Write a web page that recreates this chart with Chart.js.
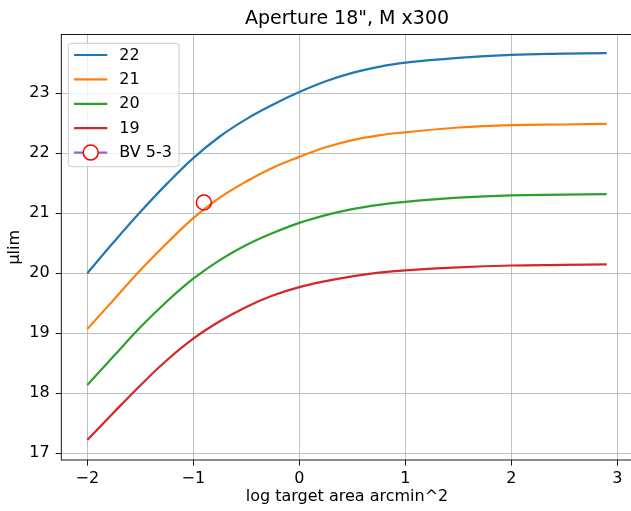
<!DOCTYPE html>
<html>
<head>
<meta charset="utf-8">
<script src="https://cdn.jsdelivr.net/npm/chart.js@4/dist/chart.umd.min.js"></script>
<style>
  html, body { margin: 0; padding: 0; background: #fff; overflow: hidden; width: 631px; height: 511px; }
  canvas { display: block; }
</style>
</head>
<body>
<canvas id="chart" width="634" height="511"></canvas>
<script>
// Limiting surface brightness vs. log target area, one curve per sky brightness
const logArea = [-2, -1.75, -1.5, -1.25, -1, -0.75, -0.5, -0.25, 0, 0.25, 0.5, 0.75, 1, 1.5, 2, 2.5, 2.9];
const mu22 = [20.0, 20.52, 21.02, 21.49, 21.92, 22.28, 22.57, 22.81, 23.02, 23.2, 23.34, 23.44, 23.51, 23.59, 23.64, 23.66, 23.67];
const mu21 = [19.07, 19.56, 20.05, 20.5, 20.92, 21.26, 21.53, 21.76, 21.94, 22.1, 22.22, 22.3, 22.35, 22.43, 22.47, 22.48, 22.49];
const mu20 = [18.14, 18.62, 19.1, 19.53, 19.91, 20.22, 20.47, 20.67, 20.84, 20.97, 21.07, 21.14, 21.19, 21.26, 21.3, 21.31, 21.32];
const mu19 = [17.22, 17.68, 18.13, 18.55, 18.91, 19.2, 19.44, 19.63, 19.77, 19.87, 19.95, 20.01, 20.05, 20.1, 20.13, 20.14, 20.15];
const seriesLabels = ['22', '21', '20', '19'];

// Observed object
const bvLabel = 'BV 5-3';
const bvX = [-0.9];
const bvY = [21.18];

const xTicks = [-2, -1, 0, 1, 2, 3];
const yTicks = [17, 18, 19, 20, 21, 22, 23];

const titleText = 'Aperture 18", M x300';
const xTitle = 'log target area arcmin^2';
const yTitle = 'µlim';

const seriesColors = ['#1f77b4', '#ff7f0e', '#2ca02c', '#d62728'];
const FONT = "'DejaVu Sans', sans-serif";

Chart.defaults.font.family = FONT;
Chart.defaults.font.size = 16;
Chart.defaults.color = '#000';

const curves = [mu22, mu21, mu20, mu19];

const datasets = seriesLabels.map((lab, i) => ({
  label: lab,
  data: logArea.map((x, j) => ({ x: x, y: curves[i][j] })),
  borderColor: seriesColors[i],
  backgroundColor: seriesColors[i],
  borderWidth: 2.2,
  pointRadius: 0,
  tension: 0.4,
  fill: false
}));
datasets.push({
  label: bvLabel,
  data: bvX.map((x, j) => ({ x: x, y: bvY[j] })),
  showLine: false,
  borderColor: '#9467bd',
  pointStyle: 'circle',
  pointRadius: 7.5,
  pointBorderColor: '#ff0000',
  pointBackgroundColor: 'rgba(0,0,0,0)',
  pointBorderWidth: 1.5,
  order: -1,
  isMarker: true
});

// Axes frame (all four spines)
const frame = {
  id: 'frame',
  afterDatasetsDraw(chart) {
    const { ctx, chartArea: a } = chart;
    ctx.save();
    ctx.strokeStyle = '#000';
    ctx.lineWidth = 0.9;
    ctx.strokeRect(a.left, a.top, a.right - a.left, a.bottom - a.top);
    ctx.restore();
  }
};

// Title centred over the plotting area
const plotTitle = {
  id: 'plotTitle',
  afterDraw(chart) {
    const { ctx, chartArea: a } = chart;
    ctx.save();
    ctx.font = '19px ' + FONT;
    ctx.fillStyle = '#000';
    ctx.textAlign = 'center';
    ctx.textBaseline = 'middle';
    ctx.fillText(titleText, (a.left + a.right) / 2, 19.5);
    ctx.restore();
  }
};

// Legend box in the upper-left corner of the plot
const legendBox = {
  id: 'legendBox',
  afterDatasetsDraw(chart) {
    const { ctx, chartArea: a } = chart;
    const x0 = a.left + 7, y0 = a.top + 8.8, w = 110.7, h = 123.4;
    ctx.save();
    ctx.beginPath();
    ctx.roundRect(x0, y0, w, h, 3);
    ctx.fillStyle = 'rgba(255,255,255,0.8)';
    ctx.fill();
    ctx.strokeStyle = '#cccccc';
    ctx.lineWidth = 1;
    ctx.stroke();
    chart.data.datasets.forEach((ds, i) => {
      const y = y0 + 11.7 + i * 24.4;
      ctx.beginPath();
      ctx.strokeStyle = ds.borderColor;
      ctx.lineWidth = 2.2;
      ctx.moveTo(x0 + 5.7, y);
      ctx.lineTo(x0 + 39, y);
      ctx.stroke();
      if (ds.isMarker) {
        ctx.beginPath();
        ctx.arc(x0 + 22.4, y, ds.pointRadius, 0, Math.PI * 2);
        ctx.fillStyle = '#fff';
        ctx.fill();
        ctx.strokeStyle = ds.pointBorderColor;
        ctx.lineWidth = ds.pointBorderWidth;
        ctx.stroke();
      }
      ctx.fillStyle = '#000';
      ctx.font = '16px ' + FONT;
      ctx.textAlign = 'left';
      ctx.textBaseline = 'middle';
      ctx.fillText(ds.label, x0 + 51, y + 0.5);
    });
    ctx.restore();
  }
};

const fmt = v => String(v).replace('-', '\u2212');
const noEdgePadding = s => { s.paddingLeft = 0; s.paddingRight = 0; s.paddingTop = 0; s.paddingBottom = 0; };

new Chart(document.getElementById('chart'), {
  type: 'line',
  data: { datasets: datasets },
  plugins: [frame, legendBox, plotTitle],
  options: {
    responsive: false,
    animation: false,
    layout: { autoPadding: false, padding: { left: 0, right: 1.3, top: 34.5, bottom: 0 } },
    plugins: {
      legend: { display: false },
      title: { display: false },
      tooltip: { enabled: false }
    },
    scales: {
      x: {
        type: 'linear',
        min: -2.245,
        max: 3.145,
        afterBuildTicks: s => { s.ticks = xTicks.map(v => ({ value: v })); },
        afterFit: s => { s.height = 51; noEdgePadding(s); },
        ticks: { callback: v => fmt(v), padding: 4, maxRotation: 0, autoSkip: false, color: '#000', font: { size: 16 } },
        grid: { color: '#b0b0b0', lineWidth: 0.8, drawTicks: true, tickLength: 5.6, tickColor: '#000', tickWidth: 0.9 },
        border: { display: false },
        title: { display: true, text: xTitle, color: '#000', font: { size: 16 }, padding: { top: 0, bottom: 4.4 } }
      },
      y: {
        type: 'linear',
        min: 16.888,
        max: 23.98,
        afterBuildTicks: s => { s.ticks = yTicks.map(v => ({ value: v })); },
        afterFit: s => { s.width = 61.3; noEdgePadding(s); },
        ticks: { callback: v => fmt(v), padding: 6, autoSkip: false, color: '#000', font: { size: 16 } },
        grid: { color: '#b0b0b0', lineWidth: 0.8, drawTicks: true, tickLength: 5.6, tickColor: '#000', tickWidth: 0.9 },
        border: { display: false },
        title: { display: true, text: yTitle, color: '#000', font: { size: 16 }, padding: { top: 5, bottom: 0 } }
      }
    }
  }
});
</script>
</body>
</html>
